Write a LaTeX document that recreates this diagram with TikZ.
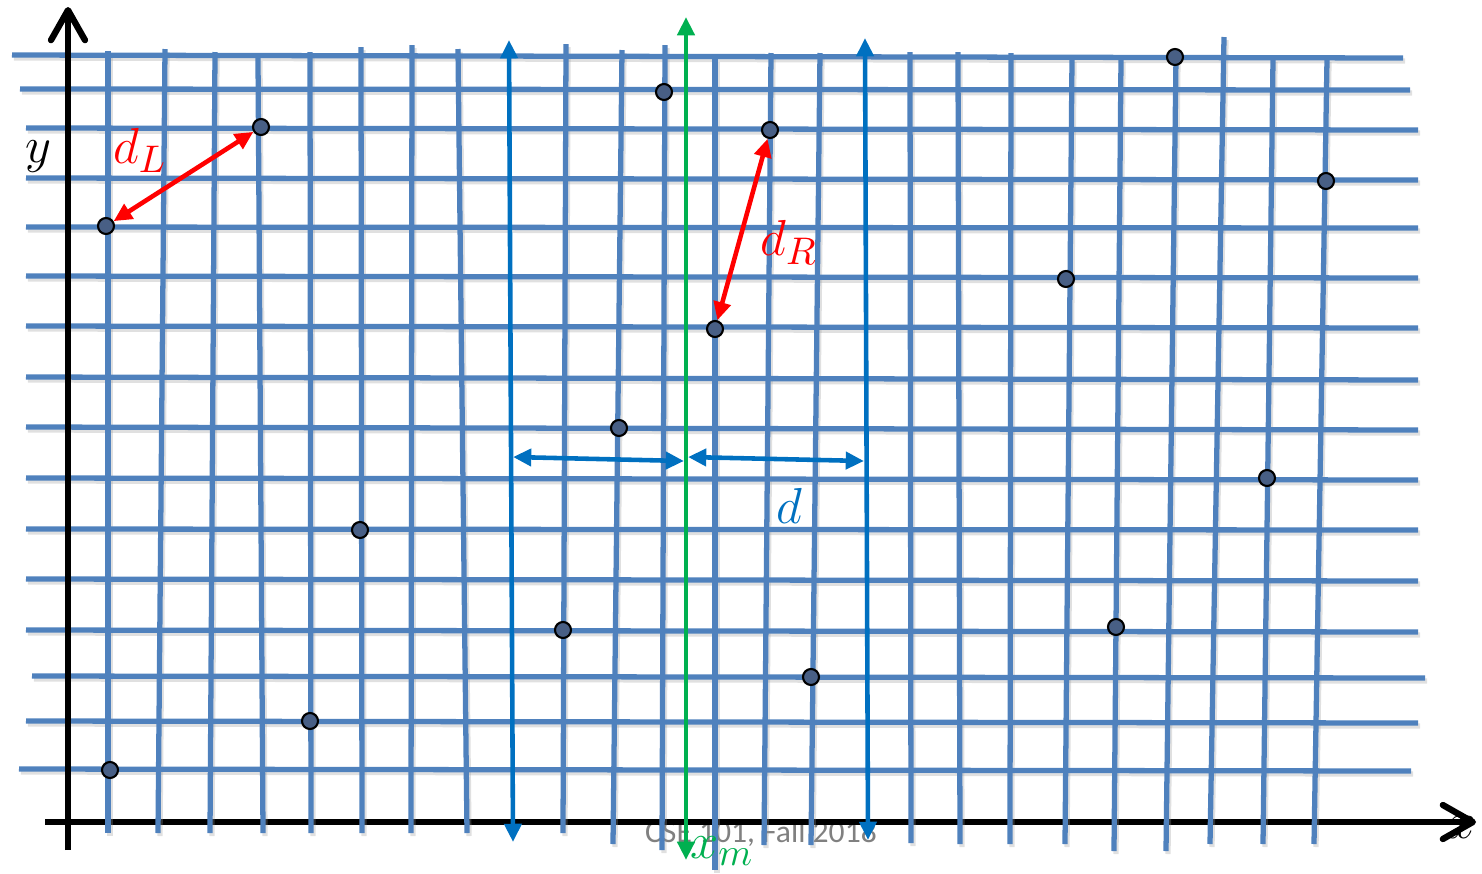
\documentclass[tikz,border=0pt]{standalone}
\usepackage{fontspec}
\newfontfamily\footfont{Carlito}
\usepackage{tikz}
\usetikzlibrary{arrows.meta}
\definecolor{gridBlue}{HTML}{4F81BD}
\definecolor{lineBlue}{HTML}{0070C0}
\definecolor{midGreen}{HTML}{00B050}
\definecolor{distRed}{HTML}{FF0000}
\definecolor{dotFill}{HTML}{485F85}
\definecolor{footGray}{HTML}{808080}

\begin{document}
\begin{tikzpicture}[x=0.1mm, y=-0.1mm,
  gridline/.style={gridBlue, line width=1.5pt},
  gridshade/.style={black!40, line width=1.5pt, opacity=0.3},
  axis/.style={line width=1.8pt, -{Straight Barb[length=3mm,width=3.4mm,round]}},
  dot/.style={circle, draw=black, line width=0.6pt, fill=dotFill, minimum size=1.6mm, inner sep=0pt},
  dbl/.style={<->, >={Triangle[length=5.2pt,width=4.8pt]}, line width=1.3pt},
  mathlbl/.style={font=\fontsize{15}{17}\selectfont, inner sep=0pt}]
  \useasboundingbox (0,0) rectangle (1482,873);

  % footer, behind everything
  \node[font=\footfont\fontsize{9}{10}\selectfont, text=footGray, anchor=base] (foot) at (761,842) {CSE 101, Fall 2018};

  % x axis (under the grid)
  \node[mathlbl] (lblX) at (1462,828) {$x$};
  \coordinate (xL) at (45,822);
  \coordinate (xR) at (1476,822);
  \draw[axis] (xL) -- (xR);

  % grid: horizontal rows
  \foreach \xa/\ya/\xb/\yb in {12/55/1403/58, 20/89/1410/90, 26/128/1418/130, 26/178/1418/180,
      26/227/1418/228, 26/276/1418/278, 26/326/1418/328, 26/377/1418/380, 26/427/1418/430,
      26/478/1418/480, 26/529/1418/530, 26/579/1418/581, 26/630/1418/632, 32/676/1425/678,
      26/721/1418/723, 19/769/1411/771}
    \draw[gridshade] (\xa+2,\ya+3) -- (\xb+2,\yb+3);
  % grid: vertical columns
  \foreach \xa/\ya/\xb/\yb in {108/51/108/833, 165/49/158/833, 215/52/210/833, 258/58/263/833,
      310/52/311/833, 361/47/362/833, 412/45/411/833, 458/49/467/833, 566/44/563/833,
      622/50/613/844, 665/45/662/850, 715/59/715/870, 771/53/764/845, 820/53/811/845,
      910/52/911/843, 958/52/960/844, 1011/53/1010/844, 1072/59/1065/844, 1121/59/1114/851,
      1176/57/1166/851, 1224/37/1210/844, 1273/59/1263/844, 1327/59/1314/844}
    \draw[gridshade] (\xa+2,\ya+3) -- (\xb+2,\yb+3);
  \foreach \xa/\ya/\xb/\yb in {12/55/1403/58, 20/89/1410/90, 26/128/1418/130, 26/178/1418/180,
      26/227/1418/228, 26/276/1418/278, 26/326/1418/328, 26/377/1418/380, 26/427/1418/430,
      26/478/1418/480, 26/529/1418/530, 26/579/1418/581, 26/630/1418/632, 32/676/1425/678,
      26/721/1418/723, 19/769/1411/771}
    \draw[gridline] (\xa,\ya) -- (\xb,\yb);
  \foreach \xa/\ya/\xb/\yb in {108/51/108/833, 165/49/158/833, 215/52/210/833, 258/58/263/833,
      310/52/311/833, 361/47/362/833, 412/45/411/833, 458/49/467/833, 566/44/563/833,
      622/50/613/844, 665/45/662/850, 715/59/715/870, 771/53/764/845, 820/53/811/845,
      910/52/911/843, 958/52/960/844, 1011/53/1010/844, 1072/59/1065/844, 1121/59/1114/851,
      1176/57/1166/851, 1224/37/1210/844, 1273/59/1263/844, 1327/59/1314/844}
    \draw[gridline] (\xa,\ya) -- (\xb,\yb);

  % y axis
  \coordinate (yB) at (68,850);
  \coordinate (yT) at (68,7);
  \draw[axis] (yB) -- (yT);
  \node[mathlbl] (lblY) at (38,157) {$y$};

  % strip borders and the median line
  \coordinate (slT) at (509,40);  \coordinate (slB) at (513,842);
  \coordinate (srT) at (865,38);  \coordinate (srB) at (868,840);
  \coordinate (mT) at (686,17);   \coordinate (mB) at (686,860);
  \draw[dbl, lineBlue] (slT) -- (slB);
  \draw[dbl, lineBlue] (srT) -- (srB);
  \draw[dbl, midGreen] (mT) -- (mB);

  % width d on both sides
  \coordinate (dL) at (513,457);
  \coordinate (dM1) at (684,461);
  \coordinate (dM2) at (688,457);
  \coordinate (dR) at (864,461);
  \draw[dbl, lineBlue] (dL) -- (dM1);
  \draw[dbl, lineBlue] (dM2) -- (dR);
  \node[mathlbl, text=lineBlue] (lblD) at (789,506) {$d$};
  \node[mathlbl, text=midGreen] (lblXm) at (722,851) {$x_m$};

  % points
  \foreach \n/\px/\py in {a/106/226, b/261/127, c/664/92, e/770/130, f/1175/57, g/1326/181,
      h/1066/279, i/715/329, j/619/428, k/1267/478, l/360/530, m/563/630, n/1116/627,
      o/811/677, p/310/721, q/110/770}
    \node[dot] (pt\n) at (\px,\py) {};

  % closest pairs
  \draw[dbl, distRed] (pta) -- (ptb);
  \draw[dbl, distRed] (pti) -- (pte);
  \node[mathlbl, text=distRed] (lblDL) at (140,150) {$d_L$};
  \node[mathlbl, text=distRed] (lblDR) at (789,242) {$d_R$};
\end{tikzpicture}
\end{document}
